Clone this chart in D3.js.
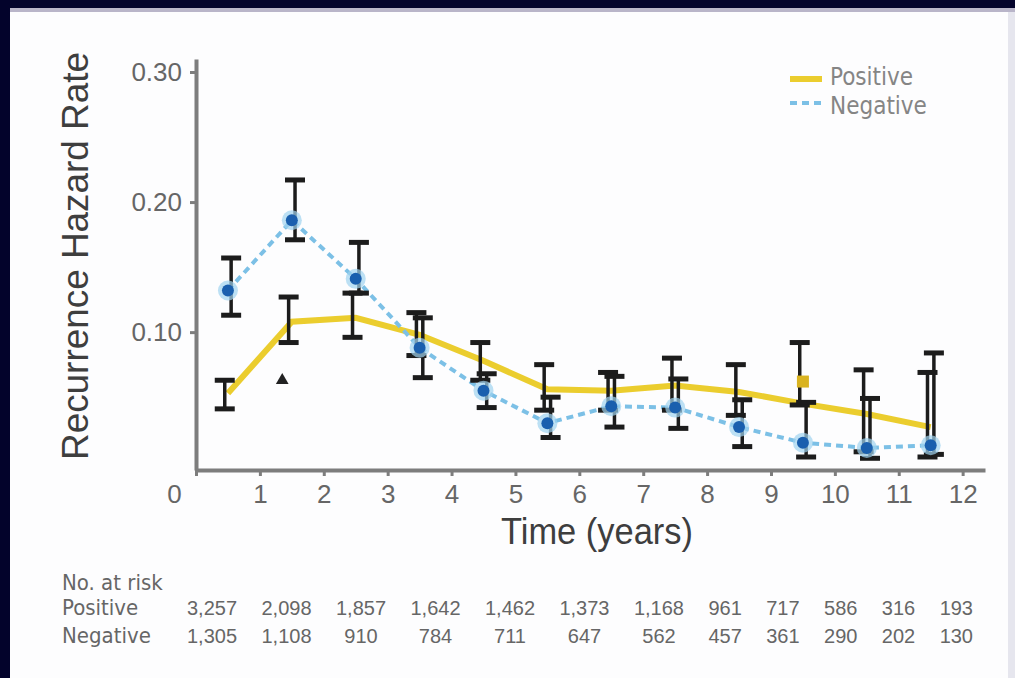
<!DOCTYPE html>
<html>
<head>
<meta charset="utf-8">
<script src="https://cdn.jsdelivr.net/npm/d3@7"></script>
<style>
	body { margin: 0; background: #03032b; }
	svg { display: block; font-family: 'Liberation Sans', Arial, sans-serif; }
	.narrow { font-family: 'Liberation Sans Narrow', 'DejaVu Sans Condensed', 'Liberation Sans', sans-serif; font-stretch: condensed; }
</style>
</head>
<body>
<div id="vis"></div>
<script>
// DATA
let years = [0.5, 1.5, 2.5, 3.5, 4.5, 5.5, 6.5, 7.5, 8.5, 9.5, 10.5, 11.5];

let posRate = [0.053, 0.108, 0.111, 0.098, 0.078, 0.056, 0.055, 0.059, 0.054, 0.045, 0.037, 0.027];
let posLow = [0.041, 0.092, 0.096, 0.082, 0.063, 0.040, 0.040, 0.040, 0.036, 0.044, 0.008, 0.004];
let posHigh = [0.063, 0.127, 0.130, 0.115, 0.092, 0.075, 0.069, 0.080, 0.075, 0.092, 0.071, 0.069];

let negRate = [0.132, 0.186, 0.141, 0.088, 0.055, 0.030, 0.043, 0.042, 0.027, 0.015, 0.011, 0.013];
let negLow = [0.113, 0.171, 0.130, 0.065, 0.042, 0.019, 0.027, 0.026, 0.012, 0.004, 0.003, 0.006];
let negHigh = [0.157, 0.217, 0.169, 0.111, 0.068, 0.050, 0.066, 0.064, 0.048, 0.046, 0.049, 0.084];

// stray points printed in the source figure
let posExtra = [{ year: 9.5, rate: 0.062 }];
let triangleMark = [{ year: 1.35, rate: 0.063 }];

let yTicks = [0.1, 0.2, 0.3];
let xTicks = [0, 1, 2, 3, 4, 5, 6, 7, 8, 9, 10, 11, 12];

let riskPositive = ['3,257', '2,098', '1,857', '1,642', '1,462', '1,373', '1,168', '961', '717', '586', '316', '193'];
let riskNegative = ['1,305', '1,108', '910', '784', '711', '647', '562', '457', '361', '290', '202', '130'];

let series = ['Positive', 'Negative'];

// PARAMETERS
let width = 1015,
	height = 678;

let colors = {
	pos: '#ebcd2e',
	neg: '#7cc0e6',
	negDot: '#1a5fae',
	bar: '#1c1c1c',
	axis: '#7d7d7d',
	text: '#666',
	title: '#3e3e3e'
};

// SCALES
let x = d3.scaleLinear().domain([0, 12.35]).range([196, 985]),
	y = d3.scaleLinear().domain([-0.006, 0.31]).range([470, 59]);

let svg = d3
	.select('#vis')
	.append('svg')
	.attr('width', width)
	.attr('height', height);

// FRAME
svg.append('rect').attr('width', width).attr('height', height).attr('fill', '#03032b');
svg.append('rect').attr('x', 10).attr('y', 8).attr('width', width - 10).attr('height', 4).attr('fill', '#b9b5c9');
svg.append('rect').attr('x', 10).attr('y', 12).attr('width', width - 10).attr('height', height - 12).attr('fill', '#fdfdfe');
svg.append('rect').attr('x', 1008).attr('y', 12).attr('width', 7).attr('height', height - 12).attr('fill', '#e6e6ee');

// AXES
let xAxis = d3
	.axisBottom(x)
	.tickValues(xTicks)
	.tickSize(6)
	.tickSizeOuter(0)
	.tickPadding(9)
	.tickFormat(d3.format('d'));

let yAxis = d3
	.axisLeft(y)
	.tickValues(yTicks)
	.tickSize(6)
	.tickSizeOuter(0)
	.tickPadding(8)
	.tickFormat(d3.format('.2f'));

let gx = svg
	.append('g')
	.attr('transform', `translate(0, ${y.range()[0]})`)
	.call(xAxis);

let gy = svg
	.append('g')
	.attr('transform', `translate(${x(0)}, 0)`)
	.call(yAxis);

[gx, gy].forEach(g => {
	g.select('.domain').attr('stroke', colors.axis).attr('stroke-width', 4);
	g.selectAll('.tick line').attr('stroke', colors.axis).attr('stroke-width', 3);
	g.selectAll('.tick text')
		.attr('fill', colors.text)
		.attr('font-size', 26)
		.attr('font-family', "'Liberation Sans', Arial, sans-serif");
});
gx.selectAll('.tick text').filter(d => d === 0).attr('dx', -22);

// AXIS TITLES
svg
	.append('text')
	.attr('transform', `translate(88, 256) rotate(-90)`)
	.attr('text-anchor', 'middle')
	.attr('font-size', 37)
	.attr('fill', colors.title)
	.attr('textLength', 408)
	.attr('lengthAdjust', 'spacingAndGlyphs')
	.text('Recurrence Hazard Rate');

svg
	.append('text')
	.attr('x', 597)
	.attr('y', 544)
	.attr('text-anchor', 'middle')
	.attr('font-size', 37)
	.attr('fill', colors.title)
	.attr('textLength', 192)
	.attr('lengthAdjust', 'spacingAndGlyphs')
	.text('Time (years)');

// LINES
let line = d3
	.line()
	.x((d, i) => x(years[i]))
	.y(d => y(d));

svg
	.append('path')
	.datum(posRate)
	.attr('fill', 'none')
	.attr('stroke', colors.pos)
	.attr('stroke-width', 6)
	.attr('d', line);

svg
	.append('path')
	.datum(negRate)
	.attr('fill', 'none')
	.attr('stroke', colors.neg)
	.attr('stroke-width', 4)
	.attr('stroke-dasharray', '7,5')
	.attr('d', line);

// ERROR BARS
let dodge = { pos: -0.05, neg: 0.05 };
let bars = years
	.map((yr, i) => ({ year: yr + dodge.pos, lo: posLow[i], hi: posHigh[i] }))
	.concat(years.map((yr, i) => ({ year: yr + dodge.neg, lo: negLow[i], hi: negHigh[i] })));

let barG = svg.append('g').attr('stroke', colors.bar);

barG
	.selectAll('line.stem')
	.data(bars)
	.enter()
	.append('line')
	.attr('class', 'stem')
	.attr('x1', d => x(d.year))
	.attr('x2', d => x(d.year))
	.attr('y1', d => y(d.lo))
	.attr('y2', d => y(d.hi))
	.attr('stroke-width', 3.5);

let caps = bars.flatMap(d => [{ year: d.year, v: d.lo }, { year: d.year, v: d.hi }]);

barG
	.selectAll('line.cap')
	.data(caps)
	.enter()
	.append('line')
	.attr('class', 'cap')
	.attr('x1', d => x(d.year) - 10)
	.attr('x2', d => x(d.year) + 10)
	.attr('y1', d => y(d.v))
	.attr('y2', d => y(d.v))
	.attr('stroke-width', 5);

// MARKERS
svg
	.selectAll('circle.halo')
	.data(negRate)
	.enter()
	.append('circle')
	.attr('class', 'halo')
	.attr('cx', (d, i) => x(years[i]))
	.attr('cy', d => y(d))
	.attr('r', 10)
	.attr('fill', '#9fd3f0')
	.attr('opacity', 0.7);

svg
	.selectAll('circle.neg')
	.data(negRate)
	.enter()
	.append('circle')
	.attr('class', 'neg')
	.attr('cx', (d, i) => x(years[i]))
	.attr('cy', d => y(d))
	.attr('r', 6)
	.attr('fill', colors.negDot);

svg
	.selectAll('rect.posx')
	.data(posExtra)
	.enter()
	.append('rect')
	.attr('class', 'posx')
	.attr('x', d => x(d.year) - 6)
	.attr('y', d => y(d.rate) - 6)
	.attr('width', 12)
	.attr('height', 12)
	.attr('fill', '#d9b320');

svg
	.selectAll('path.tri')
	.data(triangleMark)
	.enter()
	.append('path')
	.attr('class', 'tri')
	.attr('transform', d => `translate(${x(d.year)}, ${y(d.rate)})`)
	.attr('d', d3.symbol().type(d3.symbolTriangle).size(70))
	.attr('fill', '#222');

// LEGEND
let legend = svg
	.selectAll('g.legend')
	.data(series)
	.enter()
	.append('g')
	.attr('class', 'legend')
	.attr('transform', (d, i) => `translate(790, ${79 + i * 24})`);

legend
	.append('line')
	.attr('x1', 0)
	.attr('x2', 32)
	.attr('stroke', (d, i) => (i ? colors.neg : colors.pos))
	.attr('stroke-width', (d, i) => (i ? 4 : 6))
	.attr('stroke-dasharray', (d, i) => (i ? '7,5' : null));

legend
	.append('text')
	.attr('class', 'narrow')
	.attr('x', 40)
	.attr('dy', (d, i) => (i ? '0.45em' : '0.25em'))
	.attr('font-size', 24)
	.attr('fill', '#858585')
	.text(d => d);

// NUMBER AT RISK
let table = svg.append('g').attr('fill', colors.text);

table
	.selectAll('text.label')
	.data(['No. at risk', 'Positive', 'Negative'])
	.enter()
	.append('text')
	.attr('class', 'label narrow')
	.attr('x', 62)
	.attr('y', (d, i) => [590, 615, 643][i])
	.attr('font-size', 22)
	.text(d => d);

// column centres follow the flow of the positive row
let rowStart = 187,
	rowEnd = 973;

let posCells = table
	.selectAll('text.pos')
	.data(riskPositive)
	.enter()
	.append('text')
	.attr('class', 'pos')
	.attr('y', 615)
	.attr('font-size', 20)
	.attr('text-anchor', 'middle')
	.text(d => d);

let widths = posCells.nodes().map(n => n.getComputedTextLength());
let gap = (rowEnd - rowStart - d3.sum(widths)) / (widths.length - 1);
let centres = [];
widths.reduce((left, w) => {
	centres.push(left + w / 2);
	return left + w + gap;
}, rowStart);

posCells.attr('x', (d, i) => centres[i]);

table
	.selectAll('text.neg')
	.data(riskNegative)
	.enter()
	.append('text')
	.attr('class', 'neg')
	.attr('x', (d, i) => centres[i])
	.attr('y', 643)
	.attr('font-size', 20)
	.attr('text-anchor', 'middle')
	.text(d => d);
</script>
</body>
</html>
